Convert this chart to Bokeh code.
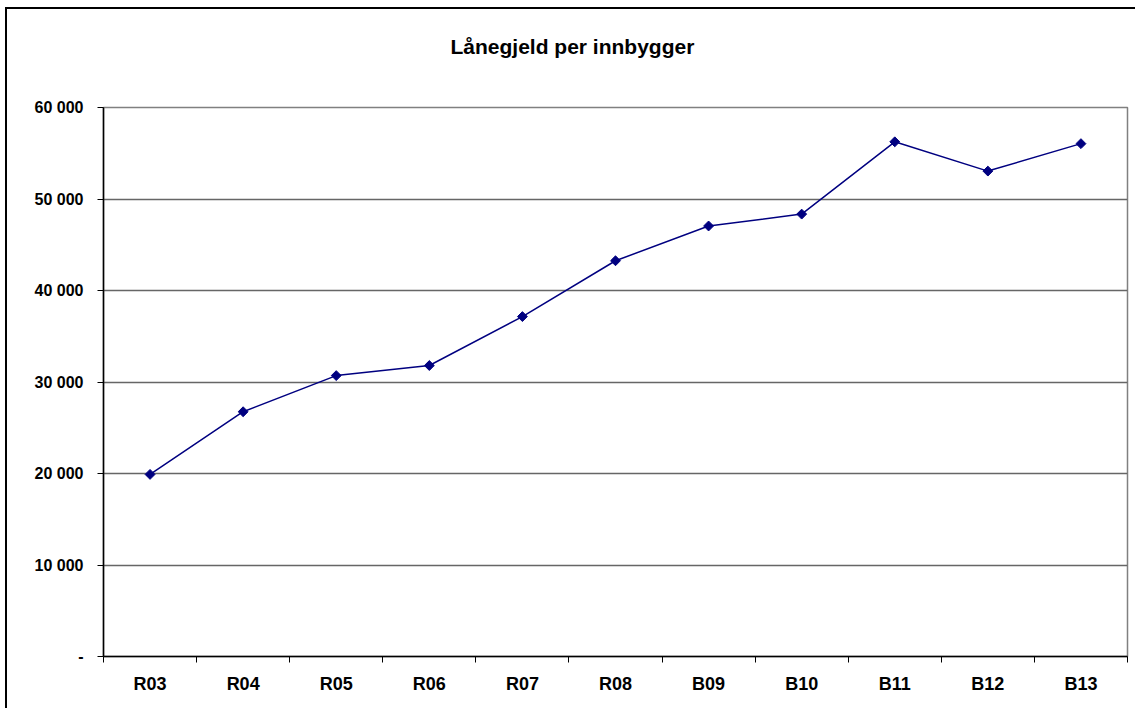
import math
from bokeh.plotting import figure
from bokeh.models import FixedTicker, Range1d, Title
from bokeh.embed import file_html
from bokeh.resources import INLINE

categories = ["R03", "R04", "R05", "R06", "R07", "R08", "B09", "B10", "B11", "B12", "B13"]
values = [19900, 26750, 30700, 31800, 37150, 43250, 47050, 48350, 56250, 53050, 56050]
y_ticks = [0, 10000, 20000, 30000, 40000, 50000, 60000]
y_tick_labels = ["-", "10 000", "20 000", "30 000", "40 000", "50 000", "60 000"]

xs = [i + 0.5 for i in range(len(categories))]

p = figure(width=1130, height=703, output_backend="svg", toolbar_location=None,
           x_range=Range1d(0, len(categories)), y_range=Range1d(0, 60000),
           frame_width=1024, frame_height=549,
           min_border_left=96, min_border_top=98, min_border_right=8, min_border_bottom=52)
p.styles = {"border-left": "2px solid black", "border-top": "2px solid black"}
p.margin = (7, 0, 0, 5)

p.title.text = "Lånegjeld per innbygger"
p.title.align = "left"
p.title.text_font = "Liberation Sans"
p.title.text_font_size = "21px"
p.title.text_font_style = "bold"
p.title.text_color = "black"
p.title.offset = 347
p.title.standoff = 10

spacer = Title(text=" ", text_font_size="21px", standoff=20)
p.add_layout(spacer, "above")

p.outline_line_color = "#808080"
p.outline_line_width = 1.5
p.background_fill_color = "white"
p.border_fill_color = "white"

# x axis
p.xaxis.ticker = FixedTicker(ticks=xs, minor_ticks=list(range(len(categories) + 1)))
p.xaxis.major_label_overrides = {x: c for x, c in zip(xs, categories)}
p.xaxis.major_tick_line_color = None
p.xaxis.minor_tick_line_color = "black"
p.xaxis.minor_tick_out = 6
p.xaxis.minor_tick_in = 0
p.xaxis.axis_line_color = "black"
p.xaxis.axis_line_width = 1.5
p.xaxis.major_label_text_font = "Liberation Sans"
p.xaxis.major_label_text_font_size = "18px"
p.xaxis.major_label_text_font_style = "bold"
p.xaxis.major_label_text_color = "black"
p.xaxis.major_label_standoff = 11
p.xgrid.grid_line_color = None

# y axis
p.yaxis.ticker = FixedTicker(ticks=y_ticks, minor_ticks=[])
p.yaxis.major_label_overrides = {t: l for t, l in zip(y_ticks, y_tick_labels)}
p.yaxis.major_tick_out = 6
p.yaxis.major_tick_in = 0
p.yaxis.major_tick_line_color = "black"
p.yaxis.axis_line_color = "black"
p.yaxis.axis_line_width = 1.5
p.yaxis.major_label_text_font = "Liberation Sans"
p.yaxis.major_label_text_font_size = "16px"
p.yaxis.major_label_text_font_style = "bold"
p.yaxis.major_label_text_color = "black"
p.yaxis.major_label_standoff = 14
p.ygrid.grid_line_color = "#666666"
p.ygrid.grid_line_width = 1.5

p.line(xs, values, line_color="#000080", line_width=1.5)
p.scatter(xs, values, marker="square", angle=math.pi / 4, size=7,
          fill_color="#000080", line_color="#000080")

open("out.html", "w").write(file_html(p, INLINE))
